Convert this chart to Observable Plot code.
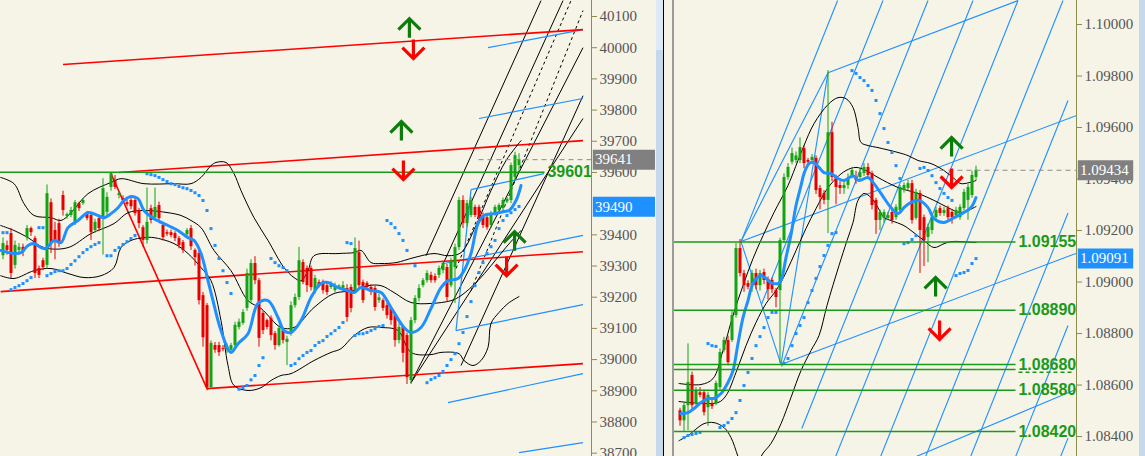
<!DOCTYPE html>
<html><head><meta charset="utf-8">
<script src="https://cdn.jsdelivr.net/npm/d3@7"></script>
<script src="https://cdn.jsdelivr.net/npm/@observablehq/plot@0.6"></script>
<style>
html,body{margin:0;padding:0;background:#f6f3e7;}
#wrap{position:relative;width:1145px;height:456px;overflow:hidden;background:#f6f3e7;}
#left{position:absolute;left:0;top:0;}
#right{position:absolute;left:674px;top:0;}
.deco{position:absolute;top:0;height:456px;}
</style></head><body>
<div id="wrap">
 <div id="left"></div>
 <div class="deco" style="left:656px;width:7px;background:#c5d8ec"></div>
 <div class="deco" style="left:656px;width:7px;height:50px;background:#dde9f6"></div>
 <div class="deco" style="left:663px;width:1px;background:#000"></div>
 <div class="deco" style="left:672px;width:2px;background:#9b9b9b"></div>
 <div id="right"></div>
 <div class="deco" style="left:1139px;width:6px;background:#c5d8ec"></div>
</div>
<script>
// ---------------- LEFT PANEL DATA (index) ----------------
// 39500 is hidden under the blue price badge in the reference
const leftTicks = [38700,38800,38900,39000,39100,39200,39300,39400,39600,39700,39800,39900,40000,40100];
// [open, high, low, close]
const leftCandles = [
[39333,39390,39320,39372],[39365,39380,39335,39350],[39404,39420,39260,39276],[39302,39380,39290,39366],
[39350,39372,39335,39360],[39360,39370,39330,39343],[39391,39430,39380,39420],[39420,39425,39395,39407],
[39388,39395,39260,39276],[39292,39300,39260,39270],[39317,39325,39285,39295],[39302,39560,39290,39532],
[39503,39515,39340,39372],[39414,39440,39320,39382],[39436,39450,39360,39372],[39526,39540,39460,39478],
[39459,39470,39450,39465],[39462,39488,39455,39478],[39440,39510,39430,39503],[39500,39505,39475,39484],
[39500,39515,39495,39510],[39468,39475,39445,39452],[39462,39470,39382,39407],[39414,39450,39405,39440],
[39452,39460,39410,39420],[39452,39580,39335,39548],[39472,39535,39460,39520],[39552,39600,39540,39596],
[39574,39590,39545,39552],[39526,39540,39515,39532],[39516,39525,39500,39510],[39503,39510,39490,39497],
[39510,39518,39480,39490],[39510,39520,39460,39468],[39478,39485,39420,39436],[39423,39430,39360,39382],
[39382,39550,39370,39440],[39484,39495,39435,39446],[39455,39550,39445,39488],[39494,39505,39440,39452],
[39430,39440,39380,39391],[39407,39415,39395,39402],[39407,39415,39390,39398],[39404,39410,39378,39388],
[39388,39395,39355,39366],[39375,39382,39340,39350],[39400,39420,39395,39414],[39420,39430,39350,39362],
[39350,39355,39300,39327],[39340,39350,39175,39189],[39205,39215,39040,39070],[39173,39180,38900,38910],
[38910,39060,38905,39052],[39045,39055,39020,39030],[39045,39055,39010,39022],[39035,39045,39025,39032],
[39030,39050,39020,39040],[39030,39052,39022,39045],[39045,39120,39035,39110],[39103,39130,39095,39120],
[39116,39160,39110,39151],[39164,39290,39155,39276],[39189,39320,39180,39308],[39308,39330,39240,39253],
[39253,39260,39040,39068],[39148,39155,39080,39093],[39125,39130,39095,39103],[39132,39140,39060,39077],
[39083,39090,39030,39045],[39045,39110,39040,39100],[39093,39100,39050,39061],[39055,39075,38981,39065],
[39083,39185,39075,39173],[39173,39210,39165,39199],[39199,39360,39190,39317],[39311,39320,39240,39247],
[39292,39300,39215,39237],[39292,39300,39220,39231],[39221,39270,39210,39260],[39247,39255,39230,39237],
[39247,39255,39210,39221],[39237,39245,39205,39215],[39231,39250,39225,39244],[39221,39245,39215,39237],
[39232,39240,39225,39236],[39221,39250,39215,39237],[39228,39240,39120,39135],[39231,39240,39150,39164],
[39221,39390,39210,39356],[39343,39380,39225,39237],[39247,39255,39180,39189],[39244,39250,39225,39231],
[39231,39240,39205,39215],[39228,39235,39155,39167],[39189,39210,39180,39198],[39189,39195,39155,39164],
[39173,39180,39130,39141],[39164,39170,39110,39125],[39141,39150,39040,39061],[39061,39115,39050,39103],
[39103,39110,38990,39020],[39077,39085,38920,38942],[38933,39135,38920,39125],[39125,39205,39115,39196],
[39196,39240,39185,39228],[39237,39260,39230,39253],[39253,39285,39245,39276],[39270,39280,39245,39253],
[39266,39275,39245,39253],[39270,39300,39260,39292],[39285,39315,39275,39308],[39295,39305,39185,39199],
[39237,39325,39230,39317],[39295,39370,39180,39359],[39359,39520,39350,39510],[39510,39525,39420,39436],
[39436,39510,39425,39500],[39462,39520,39455,39510],[39488,39495,39455,39462],[39488,39495,39445,39455],
[39462,39470,39420,39430],[39455,39462,39415,39423],[39430,39475,39420,39468],[39468,39495,39460,39488],
[39478,39500,39470,39494],[39484,39518,39478,39510],[39506,39520,39500,39513],[39510,39630,39500,39622],
[39584,39665,39575,39654],[39622,39660,39600,39641]
];
// [bar, price]
const leftUpperBand = [[-0.6,39584],[2.75,39564],[5.25,39500],[7.75,39462],[12,39455],[14.5,39446],[17,39471],[21.25,39532],[27,39568],[29.5,39580],[35.25,39564],[42.75,39564],[47,39564],[49.5,39584],[52,39622],[53.25,39632],[55.75,39632],[57.75,39596],[59.5,39542],[62.75,39455],[66.25,39382],[70.25,39295],[72.75,39263],[74.5,39253],[76.25,39285],[77.75,39333],[83.75,39340],[87.75,39343],[89.5,39350],[92,39311],[94.5,39308],[98.25,39311],[102.75,39327],[107.75,39340],[111.25,39333],[114.5,39343],[118.25,39430],[122,39542],[125.75,39638],[129.5,39702]];
const leftMiddleBand = [[-0.6,39430],[2.75,39414],[6.25,39391],[10.25,39359],[16.25,39359],[22,39404],[27.75,39436],[31.25,39471],[35.25,39478],[41.25,39471],[44.5,39462],[47,39446],[49.5,39423],[52.75,39350],[57,39285],[61.25,39189],[64.5,39164],[69.5,39103],[72.75,39103],[77.75,39167],[82.75,39212],[87.75,39221],[91.25,39237],[94.5,39237],[97.75,39215],[102,39183],[107,39180],[112,39189],[114.5,39205],[118.75,39253],[122,39301],[125.75,39360],[129.5,39414]];
const leftLowerBand = [[-0.6,39269],[2.75,39260],[7.75,39285],[12,39292],[16.25,39276],[20.25,39263],[24.5,39269],[27.75,39295],[29.5,39359],[32,39382],[35.25,39391],[37.75,39391],[42.75,39372],[46.25,39340],[49.5,39295],[52,39253],[54.5,39125],[56.25,38981],[57.75,38917],[61.25,38901],[64.5,38910],[67,38933],[69.5,38949],[72,38955],[77.75,38997],[82,39023],[84.5,39035],[87.75,39077],[91.25,39103],[94.5,39103],[98.75,39093],[102,39023],[107,39016],[109.5,39023],[114,39019],[115.25,38997],[117.5,38981],[119.5,38997],[121.25,39039],[122,39116],[124,39151],[126.25,39180],[129,39202]];
const leftMA = [[-0.6,39350],[2.75,39340],[4.5,39343],[6.25,39366],[7.75,39372],[9.5,39359],[10.75,39356],[12.75,39382],[14.5,39375],[16.25,39423],[18.75,39446],[21.25,39471],[23.75,39462],[25.25,39455],[27,39468],[28.75,39487],[30.25,39510],[32,39523],[33.75,39516],[35.25,39478],[37.75,39452],[41.25,39430],[43.75,39414],[46.25,39391],[47.75,39382],[49.5,39340],[51.25,39253],[52.5,39189],[54.5,39093],[57,39023],[58.75,39051],[61.25,39083],[63.75,39180],[66.25,39189],[68.75,39135],[70.25,39093],[72,39087],[74.5,39125],[77,39199],[79.5,39244],[81.25,39247],[83.75,39231],[86.25,39221],[87.75,39215],[89.5,39231],[92,39221],[94.5,39215],[97,39167],[100.25,39103],[102,39087],[104.5,39103],[107,39164],[109.5,39231],[111.25,39253],[113.75,39260],[115.25,39285],[117,39340],[118.75,39436],[120.25,39462],[122.75,39468],[125.25,39475],[126.5,39478],[128.25,39510],[129.5,39558]];
const leftSar = [[0,39407],[1,39407],[2,39224],[3,39231],[4,39237],[5,39244],[6,39253],[7,39263],[9,39423],[10,39423],[11,39269],[12,39276],[13,39282],[14,39285],[15,39285],[16,39292],[17,39305],[18,39317],[19,39330],[20,39343],[21,39353],[22,39362],[23,39369],[24,39375],[26,39333],[27,39333],[28,39350],[29,39359],[30,39369],[31,39378],[32,39388],[33,39398],
[36,39596],[37,39593],[38,39590],[39,39584],[40,39577],[41,39571],[42,39564],[43,39561],[44,39555],[45,39551],[46,39548],[47,39542],[48,39535],[49,39526],[50,39510],[51,39478],[52,39420],[53,39366],[54,39324],[55,39285],[56,39247],[57,39212],
[59,38905],[60,38910],[61,38917],[62,38935],[63,38949],[64,38981],[65,39006],
[67,39324],[68,39311],[69,39301],[70,39295],[71,39285],
[72,38981],[73,38987],[74,39003],[75,39013],[76,39023],[77,39029],[78,39045],[79,39055],[80,39061],[81,39074],[82,39083],[83,39093],[84,39103],[85,39119],
[86,39375],[87,39372],
[88,39077],[89,39083],[90,39083],[91,39087],[92,39093],[93,39099],[94,39106],[95,39109],
[96,39446],[97,39436],[98,39423],[99,39404],[100,39382],[101,39350],[103,39301],
[106,38926],[107,38936],[108,38942],[109,38949],[110,38962],[111,38981],[112,39000],[113,39019],[114,39051],[115,39087],[116,39138],[117,39186],[118,39237],[119,39279],[120,39311],[121,39340],[122,39362],[123,39382],[124,39420],[125,39446],[126,39462],[127,39471],[128,39481],[129,39491]];
// segments [bar1, price1, bar2, price2]
const leftRedLines = [[15,39946,145,40058],[29,39600,145,39702],[27,39596,51,38907],[-0.6,39218,145,39346],[51,38907,145,38987]];
const leftBlueLines = [[121.25,40000,145,40058],[119,39773,145,39837],[117,39545,135.25,39596],[117,39545,113.25,39093],[113.25,39093,145,39176],[110.25,39308,145,39398],[111.25,38862,145,38955],[129,38702,145,38734]];
const leftBlackLines = [[105.75,39333,134.5,40151],[109.5,39292,140,40151],[102,38926,145,40000],[102,38926,145,39773],[114.5,38981,145,39846]];
const leftBlackDashed = [[113.25,39292,142,40151],[117,39221,145,40119]];
const leftLevels = [39601];
const leftLastPrice = 39641, leftSarPrice = 39490;
const leftUpArrows = [[101.6,40061],[99.6,39731],[127.9,39378]];
const leftDownArrows = [[102.6,39994],[100.1,39606],[125.9,39298]];

// ---------------- RIGHT PANEL DATA ----------------
const rightTicks = [1.084,1.086,1.088,1.090,1.092,1.094,1.096,1.098,1.100];
const rightCandles = [
[1.08500,1.08510,1.08440,1.08461],[1.08461,1.08530,1.08420,1.08520],[1.08520,1.08760,1.08423,1.08610],[1.08637,1.08650,1.08500,1.08520],
[1.08528,1.08590,1.08520,1.08578],[1.08570,1.08590,1.08550,1.08560],[1.08570,1.08580,1.08480,1.08493],[1.08512,1.08570,1.08440,1.08560],
[1.08528,1.08540,1.08505,1.08516],[1.08528,1.08615,1.08520,1.08606],[1.08590,1.08740,1.08580,1.08726],[1.08734,1.08785,1.08725,1.08773],
[1.08773,1.08790,1.08675,1.08687],[1.08773,1.08890,1.08765,1.08870],[1.08870,1.09150,1.08860,1.09130],[1.09130,1.09165,1.09020,1.09033],
[1.09033,1.09045,1.08960,1.08986],[1.08994,1.09005,1.08970,1.08980],[1.08986,1.09045,1.08960,1.09033],[1.09033,1.09050,1.08970,1.08986],
[1.08986,1.09045,1.08965,1.09033],[1.09037,1.09050,1.08990,1.09006],[1.09010,1.09020,1.08930,1.08970],[1.09006,1.09015,1.08955,1.08970],
[1.08967,1.08975,1.08900,1.08940],[1.08967,1.09170,1.08684,1.09161],[1.09161,1.09420,1.09150,1.09406],[1.09406,1.09460,1.09395,1.09445],
[1.09465,1.09520,1.09455,1.09499],[1.09472,1.09505,1.09460,1.09490],[1.09472,1.09560,1.09460,1.09522],[1.09518,1.09530,1.09440,1.09460],
[1.09472,1.09480,1.09455,1.09465],[1.09472,1.09495,1.09460,1.09484],[1.09480,1.09490,1.09340,1.09355],[1.09363,1.09375,1.09280,1.09328],
[1.09344,1.09355,1.09300,1.09317],[1.09317,1.09821,1.09188,1.09580],[1.09580,1.09620,1.09390,1.09406],[1.09406,1.09415,1.09300,1.09367],
[1.09375,1.09390,1.09340,1.09363],[1.09363,1.09395,1.09340,1.09375],[1.09375,1.09420,1.09360,1.09402],[1.09414,1.09445,1.09400,1.09433],
[1.09406,1.09430,1.09380,1.09394],[1.09406,1.09440,1.09390,1.09425],[1.09421,1.09460,1.09410,1.09445],[1.09445,1.09460,1.09400,1.09414],
[1.09421,1.09430,1.09280,1.09297],[1.09317,1.09325,1.09185,1.09239],[1.09239,1.09280,1.09200,1.09270],[1.09247,1.09280,1.09230,1.09270],
[1.09247,1.09270,1.09240,1.09258],[1.09270,1.09280,1.09225,1.09239],[1.09250,1.09300,1.09240,1.09290],[1.09278,1.09375,1.09270,1.09367],
[1.09355,1.09385,1.09345,1.09375],[1.09363,1.09395,1.09355,1.09382],[1.09382,1.09395,1.09225,1.09239],[1.09247,1.09360,1.09240,1.09348],
[1.09344,1.09355,1.09033,1.09200],[1.09250,1.09260,1.09060,1.09161],[1.09173,1.09225,1.09075,1.09212],[1.09200,1.09260,1.09185,1.09250],
[1.09250,1.09290,1.09240,1.09278],[1.09285,1.09295,1.09255,1.09266],[1.09266,1.09290,1.09255,1.09278],[1.09285,1.09295,1.09235,1.09250],
[1.09270,1.09280,1.09225,1.09250],[1.09258,1.09290,1.09245,1.09278],[1.09250,1.09300,1.09240,1.09290],[1.09285,1.09360,1.09275,1.09348],
[1.09317,1.09380,1.09240,1.09367],[1.09336,1.09430,1.09325,1.09414],[1.09406,1.09450,1.09395,1.09434]
];
const rightUpperBand = [[-0.25,1.08606],[5.25,1.08602],[8.25,1.08625],[10.75,1.08734],[13.25,1.08870],[15.75,1.08986],[18.25,1.09091],[20.75,1.09180],[23.5,1.09270],[27,1.09375],[29.5,1.09472],[31,1.09530],[33.5,1.09615],[37,1.09689],[39.5,1.09716],[41.5,1.09712],[43.25,1.09678],[44.5,1.09600],[45.25,1.09542],[47,1.09530],[49.5,1.09522],[54.5,1.09503],[57,1.09491],[59.5,1.09472],[62.75,1.09460],[66,1.09433],[68.5,1.09402],[70.25,1.09382],[74,1.09394]];
const rightMiddleBand = [[-0.25,1.08536],[9.5,1.08532],[11.5,1.08559],[14,1.08649],[16.5,1.08753],[19,1.08843],[21.5,1.08916],[24,1.08967],[26.5,1.09037],[29,1.09122],[31.5,1.09208],[34,1.09285],[36.5,1.09355],[39,1.09402],[41.5,1.09433],[44,1.09445],[46.5,1.09433],[49.5,1.09406],[54.5,1.09367],[59.5,1.09344],[63.5,1.09317],[67,1.09289],[70.25,1.09270],[74,1.09293]];
const rightLowerBand = [[-0.25,1.08384],[2,1.08404],[6,1.08450],[8.5,1.08454],[11,1.08435],[12.75,1.08396],[14.5,1.08322],[16.5,1.08229],[19,1.08229],[20.25,1.08322],[22.75,1.08373],[25.25,1.08450],[27.75,1.08552],[30.25,1.08656],[32.75,1.08734],[34.75,1.08792],[36.75,1.08909],[39.75,1.09064],[41.75,1.09161],[43.25,1.09231],[44.5,1.09317],[46,1.09344],[47.75,1.09328],[49.5,1.09289],[51,1.09250],[52.75,1.09239],[56,1.09219],[57.75,1.09200],[61,1.09161],[63.5,1.09134],[66,1.09149],[67.75,1.09157],[70.25,1.09157],[74,1.09153]];
const rightMA = [[0.25,1.08489],[2,1.08493],[3.5,1.08509],[5.25,1.08532],[7,1.08548],[8.5,1.08548],[10.25,1.08567],[12,1.08610],[13.25,1.08656],[14.5,1.08761],[15.75,1.08862],[17,1.08928],[18.25,1.08994],[20.25,1.09025],[21.5,1.09014],[22.75,1.08998],[24.5,1.08994],[25.25,1.09006],[26.5,1.09095],[27.75,1.09184],[29,1.09297],[30.25,1.09374],[31,1.09421],[32.25,1.09460],[33.5,1.09464],[34.75,1.09445],[36,1.09425],[37.75,1.09421],[39.5,1.09402],[41,1.09394],[43.25,1.09413],[44.75,1.09394],[47,1.09406],[48.5,1.09382],[50.25,1.09344],[52.75,1.09289],[54.5,1.09266],[56,1.09289],[57.75,1.09309],[59.75,1.09317],[62,1.09289],[63.5,1.09246],[66,1.09231],[68.5,1.09250],[71,1.09270],[72.75,1.09289],[74,1.09328]];
const rightSar = [[1,1.08396],[2,1.08404],[3,1.08408],[4,1.08412],[5,1.08416],[7,1.08761],[8,1.08753],[9,1.08750],
[10,1.08435],[11,1.08443],[12,1.08454],[13,1.08470],[14,1.08493],[15,1.08540],[16,1.08598],[17,1.08649],[18,1.08703],[19,1.08753],[20,1.08788],[21,1.08823],[22,1.08862],[23,1.08882],[24,1.08882],
[26,1.08684],[27,1.08703],[28,1.08753],[29,1.08800],[30,1.08831],[31,1.08862],[32,1.08920],[33,1.08967],[34,1.09014],[35,1.09060],[36,1.09103],[37,1.09142],[38,1.09188],[39,1.09192],
[43,1.09821],[44,1.09810],[45,1.09794],[46,1.09782],[47,1.09763],[48,1.09744],[49,1.09705],[50,1.09654],[51,1.09596],[52,1.09542],[53,1.09503],[54,1.09452],[55,1.09402],
[56,1.09149],[57,1.09153],[58,1.09165],[59,1.09180],
[60,1.09441],[61,1.09445],[62,1.09433],[63,1.09413],[64,1.09386],[65,1.09363],[66,1.09344],[67,1.09328],[68,1.09317],
[69,1.09025],[70,1.09033],[71,1.09037],[72,1.09045],[73,1.09072],[74,1.09091]];
const rightBlueLines = [
[15.25,1.09157,37,1.09813],[37,1.09813,84.5,1.10093],[15.25,1.09157,99,1.09646],[25.25,1.08680,99,1.09111],
[59,1.08322,99,1.08583],[15.25,1.09157,25.25,1.08680],[25.25,1.08680,37,1.09813],
[15.25,1.09157,39.4,1.10093],[20.35,1.08913,50.75,1.10093],[25.4,1.08672,62,1.10093],[30.45,1.08431,73.25,1.10093],
[38.9,1.08322,84.5,1.10093],[50.15,1.08322,95.75,1.10093],[61.4,1.08322,97,1.09705],[72.65,1.08322,97,1.09268],
[83.9,1.08322,97,1.08831],[95.15,1.08322,97,1.08394]];
const rightLevels = [1.09155,1.08890,1.08680,1.08580,1.08420];
const rightExtraLevel = [1.08660];
const rightLastPrice = 1.09434, rightSarPrice = 1.09091;
const rightUpArrows = [[67.9,1.09522],[63.9,1.08979]];
const rightDownArrows = [[67.9,1.09402],[64.9,1.08812]];

// ---------------- DRAWING ----------------
const GREEN_C = "#12a512", RED_C = "#e60000", BLUE = "#1e90ff", LVL = "#1a9a1a", AXIS = "#8c8c4c";
const arrowUp = {draw(c){c.moveTo(0,-10);c.lineTo(0,9);c.moveTo(-11,1);c.lineTo(0,-10);c.lineTo(11,1);}};
const arrowDown = {draw(c){c.moveTo(0,-10);c.lineTo(0,9);c.moveTo(-11,-2);c.lineTo(0,9);c.lineTo(11,-2);}};

function candleMarks(raw){
  const cd = raw.map(([o,h,l,c],i)=>({i,o,h,l,c}));
  const up = cd.filter(d=>d.c>=d.o), dn = cd.filter(d=>d.c<d.o);
  return [
    Plot.ruleX(up,{x:"i",y1:"l",y2:"h",stroke:GREEN_C,strokeWidth:1}),
    Plot.ruleX(dn,{x:"i",y1:"l",y2:"h",stroke:RED_C,strokeWidth:1}),
    Plot.ruleX(up,{x:"i",y1:"o",y2:"c",stroke:GREEN_C,strokeWidth:3}),
    Plot.ruleX(dn,{x:"i",y1:"o",y2:"c",stroke:RED_C,strokeWidth:3})
  ];
}
const seg = (data,o)=>Plot.link(data,{x1:d=>d[0],y1:d=>d[1],x2:d=>d[2],y2:d=>d[3],clip:true,...o});
const curve = (data,o)=>Plot.line(data,{x:d=>d[0],y:d=>d[1],curve:"catmull-rom",clip:true,...o});
const arrows = (data,sym,color)=>Plot.dot(data,{x:d=>d[0],y:d=>d[1],symbol:sym,r:6,fill:"none",stroke:color,strokeWidth:3.2,strokeLinejoin:"miter"});

function panel(cfg){
  const xMax = cfg.xDomain[1];
  return Plot.plot({
    width: cfg.width, height: 456,
    marginLeft: 0, marginRight: 64, marginTop: 0, marginBottom: 0,
    x: {domain: cfg.xDomain, axis: null},
    y: {domain: cfg.yDomain},
    style: {background:"transparent", fontFamily:"Liberation Serif", fontSize:"15px", color:"#555", overflow:"visible"},
    marks: [
      ...cfg.extraBack,
      curve(cfg.upper,{stroke:"#000",strokeWidth:1}),
      curve(cfg.middle,{stroke:"#000",strokeWidth:1}),
      curve(cfg.lower,{stroke:"#000",strokeWidth:1}),
      ...candleMarks(cfg.candles),
      curve(cfg.ma,{stroke:BLUE,strokeWidth:3}),
      Plot.dot(cfg.sar,{x:d=>d[0],y:d=>d[1],symbol:"square",r:1.7,fill:BLUE}),
      ...cfg.extraFront,
      Plot.ruleY([cfg.last],{y:d=>d,x1:cfg.dashFrom,x2:xMax,stroke:"#8a8a8a",strokeDasharray:"5,4",strokeWidth:1}),
      Plot.ruleY(cfg.levels,{y:d=>d,x1:cfg.xDomain[0],x2:cfg.levelEnd,stroke:LVL,strokeWidth:1.5}),
      Plot.text(cfg.levels,{y:d=>d,x:cfg.levelEnd+0.6,text:cfg.fmtLevel,textAnchor:"start",fill:LVL,fontWeight:"bold",fontSize:16,fontFamily:"Liberation Sans"}),
      arrows(cfg.up,arrowUp,"#0a7d0a"),
      arrows(cfg.down,arrowDown,"#ff0000"),
      Plot.ruleX([xMax],{stroke:AXIS,strokeWidth:1}),
      Plot.axisY(cfg.ticks,{anchor:"right",tickSize:5,tickPadding:3,tickFormat:cfg.fmtTick,stroke:AXIS,fill:"#555",fontSize:15,fontFamily:"Liberation Serif"}),
      Plot.ruleY([cfg.last],{y:d=>d,x1:xMax+0.45,x2:xMax+cfg.badgeW,stroke:"#808080",strokeWidth:20}),
      Plot.text([cfg.last],{y:d=>d,x:xMax+0.9,text:cfg.fmtTick,textAnchor:"start",fill:"#fff",fontSize:15,fontFamily:"Liberation Serif"}),
      Plot.ruleY([cfg.sarLast],{y:d=>d,x1:xMax+0.45,x2:xMax+cfg.badgeW,stroke:BLUE,strokeWidth:20}),
      Plot.text([cfg.sarLast],{y:d=>d,x:xMax+0.9,text:cfg.fmtTick,textAnchor:"start",fill:"#fff",fontSize:15,fontFamily:"Liberation Serif"})
    ]
  });
}

const left = panel({
  width: 655, xDomain: [-0.625, 147.125], yDomain: [38689.3, 40151.3],
  candles: leftCandles, upper: leftUpperBand, middle: leftMiddleBand, lower: leftLowerBand,
  ma: leftMA, sar: leftSar, levels: leftLevels, levelEnd: 135.5, dashFrom: 119,
  last: leftLastPrice, sarLast: leftSarPrice, up: leftUpArrows, down: leftDownArrows,
  ticks: leftTicks, fmtTick: d=>d3.format("d")(d), fmtLevel: d=>d3.format("d")(d), badgeW: 16,
  extraBack: [
    seg(leftBlackLines,{stroke:"#000",strokeWidth:1}),
    seg(leftBlackDashed,{stroke:"#000",strokeWidth:1,strokeDasharray:"3,3"}),
    seg(leftBlueLines,{stroke:BLUE,strokeWidth:1.2}),
    seg(leftRedLines,{stroke:"#ff0000",strokeWidth:1.6})
  ],
  extraFront: []
});
document.getElementById("left").appendChild(left);

const right = panel({
  width: 466, xDomain: [-1.375, 99.125], yDomain: [1.083225, 1.100932],
  candles: rightCandles, upper: rightUpperBand, middle: rightMiddleBand, lower: rightLowerBand,
  ma: rightMA, sar: rightSar, levels: rightLevels, levelEnd: 84, dashFrom: 65,
  last: rightLastPrice, sarLast: rightSarPrice, up: rightUpArrows, down: rightDownArrows,
  ticks: rightTicks, fmtTick: d=>d3.format(".5f")(d), fmtLevel: d=>d3.format(".5f")(d), badgeW: 14.3,
  extraBack: [
    seg(rightBlueLines,{stroke:BLUE,strokeWidth:1.1})
  ],
  extraFront: [
    Plot.ruleY(rightExtraLevel,{y:d=>d,x1:-1.375,x2:84,stroke:LVL,strokeWidth:1.5}),
    Plot.ruleY(rightExtraLevel,{y:d=>d-0.0001,x1:84.75,x2:98.5,stroke:LVL,strokeWidth:1.5,strokeDasharray:"4,3"})
  ]
});
document.getElementById("right").appendChild(right);
</script>
</body></html>
